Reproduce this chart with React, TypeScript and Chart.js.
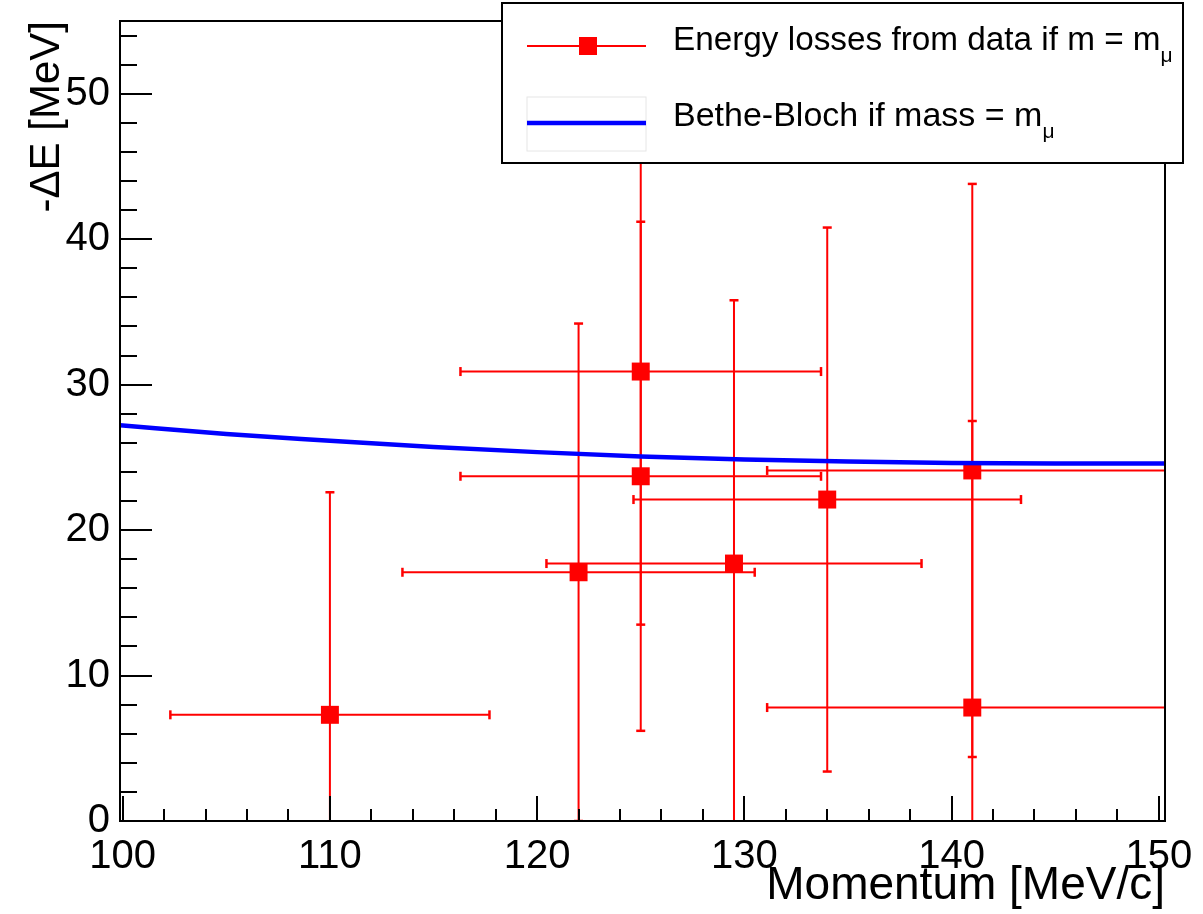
import React, { useEffect, useRef } from "react";
import { Chart, registerables } from "chart.js";

Chart.register(...registerables);

// ---------- axes ----------
const X_RANGE = [99.87, 150.3];
const Y_RANGE = [0, 55];
const X_TICKS = [100, 110, 120, 130, 140, 150];
const Y_TICKS = [0, 10, 20, 30, 40, 50];
const X_MINOR_STEP = 2;
const Y_MINOR_STEP = 2;
const X_TITLE = "Momentum [MeV/c]";
const Y_TITLE = "-\u0394E [MeV]";

// ---------- measured points (TGraphErrors) ----------
const MOMENTUM = [110, 122, 125, 125, 129.5, 134, 141, 141];
const MOMENTUM_ERR = [7.7, 8.5, 8.7, 8.7, 9.05, 9.35, 9.9, 9.9];
const ENERGY_LOSS = [7.3, 17.1, 30.9, 23.7, 17.7, 22.1, 24.1, 7.8];
const ENERGY_LOSS_ERR = [15.3, 17.1, 17.4, 17.5, 18.1, 18.7, 19.7, 19.7];

// ---------- Bethe-Bloch curve ----------
const BB_MOMENTUM = [99.87, 105, 110, 115, 120, 125, 130, 135, 140, 145, 150.3];
const BB_ENERGY = [27.2, 26.6, 26.15, 25.72, 25.36, 25.06, 24.86, 24.71, 24.61, 24.57, 24.57];

// ---------- legend ----------
const LEGEND_LABELS = ["Energy losses from data if m = m", "Bethe-Bloch if mass = m"];
const LEGEND_SUB = "\u03bc";

const RED = "#ff0000";
const BLUE = "#0000ff";
const FONT = "'Liberation Sans', Arial, Helvetica, sans-serif";

const line = (ctx: CanvasRenderingContext2D, x0: number, y0: number, x1: number, y1: number) => {
  ctx.beginPath();
  ctx.moveTo(x0, y0);
  ctx.lineTo(x1, y1);
  ctx.stroke();
};

const rootPlugin = {
  id: "rootStyle",
  beforeDatasetsDraw(chart: any) {
    const { ctx, chartArea: a } = chart;
    const xs = chart.scales.x;
    const ys = chart.scales.y;
    ctx.save();
    ctx.beginPath();
    ctx.rect(a.left, a.top, a.right - a.left, a.bottom - a.top);
    ctx.clip();
    ctx.strokeStyle = RED;
    ctx.lineWidth = 2;
    const cap = 4.5;
    MOMENTUM.forEach((m, i) => {
      const e = ENERGY_LOSS[i];
      const px = xs.getPixelForValue(m);
      const py = ys.getPixelForValue(e);
      const xl = m - MOMENTUM_ERR[i];
      const xh = m + MOMENTUM_ERR[i];
      const yl = e - ENERGY_LOSS_ERR[i];
      const yh = e + ENERGY_LOSS_ERR[i];
      const x0 = xs.getPixelForValue(xl);
      const x1 = xs.getPixelForValue(xh);
      const y0 = ys.getPixelForValue(yl);
      const y1 = ys.getPixelForValue(yh);
      line(ctx, x0, py, x1, py);
      line(ctx, px, y0, px, y1);
      ctx.lineWidth = 2.5;
      if (xl >= X_RANGE[0]) line(ctx, x0, py - cap, x0, py + cap);
      if (xh <= X_RANGE[1]) line(ctx, x1, py - cap, x1, py + cap);
      if (yl >= Y_RANGE[0] - 0.05) line(ctx, px - cap, y0, px + cap, y0);
      if (yh <= Y_RANGE[1]) line(ctx, px - cap, y1, px + cap, y1);
      ctx.lineWidth = 2;
    });
    ctx.restore();
  },
  afterDraw(chart: any) {
    const { ctx, chartArea: a } = chart;
    const xs = chart.scales.x;
    const ys = chart.scales.y;
    ctx.save();
    ctx.strokeStyle = "#000";
    ctx.lineWidth = 2;
    // ticks (inside the frame)
    for (let v = Math.ceil(X_RANGE[0] / X_MINOR_STEP) * X_MINOR_STEP; v <= X_RANGE[1]; v += X_MINOR_STEP) {
      const px = Math.round(xs.getPixelForValue(v));
      const len = X_TICKS.includes(v) ? 25 : 12;
      line(ctx, px, a.bottom, px, a.bottom - len);
    }
    for (let v = Y_RANGE[0]; v <= Y_RANGE[1]; v += Y_MINOR_STEP) {
      const py = Math.round(ys.getPixelForValue(v));
      const len = Y_TICKS.includes(v) ? 32 : 17;
      line(ctx, a.left, py, a.left + len, py);
    }
    // frame
    ctx.strokeRect(a.left, a.top, a.right - a.left, a.bottom - a.top);

    // legend box
    const L = { x: 502, y: 3, w: 681, h: 160 };
    ctx.fillStyle = "#fff";
    ctx.fillRect(L.x, L.y, L.w, L.h);
    ctx.strokeStyle = "#000";
    ctx.lineWidth = 2;
    ctx.strokeRect(L.x, L.y, L.w, L.h);

    // entry 1: data
    const sx0 = 527, sx1 = 646, sxm = 588;
    ctx.strokeStyle = RED;
    ctx.lineWidth = 2;
    line(ctx, sx0, 46, sx1, 46);
    ctx.fillStyle = RED;
    ctx.fillRect(sxm - 9, 46 - 9, 18, 18);

    // entry 2: curve
    ctx.strokeStyle = "#e6e6e6";
    ctx.lineWidth = 1;
    ctx.strokeRect(sx0, 97, sx1 - sx0, 54);
    ctx.strokeStyle = BLUE;
    ctx.lineWidth = 4.5;
    line(ctx, sx0, 123, sx1, 123);

    // texts
    ctx.fillStyle = "#000";
    ctx.textAlign = "left";
    ctx.textBaseline = "alphabetic";
    const rows = [50, 126];
    const sizes = [33.3, 34];
    LEGEND_LABELS.forEach((t, i) => {
      ctx.font = `${sizes[i]}px ${FONT}`;
      ctx.fillText(t, 673, rows[i]);
      const w = ctx.measureText(t).width;
      ctx.font = `21px ${FONT}`;
      ctx.fillText(LEGEND_SUB, 673 + w, rows[i] + 12);
    });
    ctx.restore();
  },
};

export default function App() {
  const ref = useRef<HTMLCanvasElement | null>(null);

  useEffect(() => {
    document.body.style.margin = "0";
    const canvas = ref.current;
    if (!canvas) return;
    const tickFont = { family: FONT, size: 40 };
    const chart = new Chart(canvas, {
      type: "scatter",
      data: {
        datasets: [
          {
            type: "scatter",
            label: "data",
            data: MOMENTUM.map((m, i) => ({ x: m, y: ENERGY_LOSS[i] })),
            pointStyle: "rect",
            pointRadius: 12.7,
            pointBackgroundColor: RED,
            pointBorderColor: RED,
            pointBorderWidth: 0,
            order: 1,
          },
          {
            type: "line",
            label: "Bethe-Bloch",
            data: BB_MOMENTUM.map((m, i) => ({ x: m, y: BB_ENERGY[i] })),
            borderColor: BLUE,
            borderWidth: 4.5,
            pointRadius: 0,
            fill: false,
            cubicInterpolationMode: "monotone",
            order: 0,
          },
        ],
      },
      options: {
        responsive: false,
        animation: false,
        events: [],
        layout: { padding: { top: 21, right: 38, bottom: 0, left: 0 } },
        plugins: { legend: { display: false }, tooltip: { enabled: false } },
        scales: {
          x: {
            type: "linear",
            min: X_RANGE[0],
            max: X_RANGE[1],
            afterBuildTicks: (s: any) => {
              s.ticks = X_TICKS.map((v) => ({ value: v }));
            },
            afterFit: (s: any) => {
              s.height = 93;
              s.paddingLeft = 0;
              s.paddingRight = 0;
            },
            grid: { display: false, drawTicks: false },
            border: { display: false },
            ticks: { font: tickFont, color: "#000", padding: 12, maxRotation: 0, autoSkip: false },
            title: {
              display: true,
              text: X_TITLE,
              align: "end",
              font: { family: FONT, size: 46 },
              color: "#000",
              padding: { top: 0, bottom: 0 },
            },
          },
          y: {
            type: "linear",
            min: Y_RANGE[0],
            max: Y_RANGE[1],
            afterBuildTicks: (s: any) => {
              s.ticks = Y_TICKS.map((v) => ({ value: v }));
            },
            afterFit: (s: any) => {
              s.width = 120;
              s.paddingTop = 0;
              s.paddingBottom = 0;
            },
            grid: { display: false, drawTicks: false },
            border: { display: false },
            ticks: { font: tickFont, color: "#000", padding: 10, autoSkip: false },
            title: {
              display: true,
              text: Y_TITLE,
              align: "end",
              font: { family: FONT, size: 42 },
              color: "#000",
              padding: { top: 22, bottom: 0 },
            },
          },
        },
      },
      plugins: [rootPlugin],
    } as any);
    return () => chart.destroy();
  }, []);

  return (
    <div style={{ position: "absolute", left: 0, top: 0, width: 1203, height: 914, background: "#fff" }}>
      <canvas ref={ref} width={1203} height={914} />
    </div>
  );
}
